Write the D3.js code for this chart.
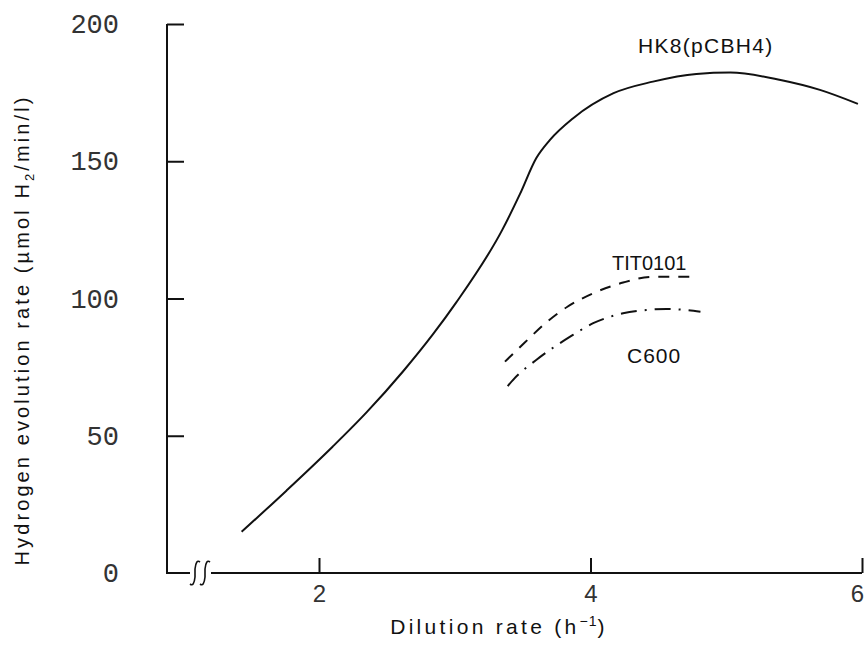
<!DOCTYPE html>
<html>
<head>
<meta charset="utf-8">
<script src="https://cdn.jsdelivr.net/npm/d3@7"></script>
<style>
	body { margin: 0; background: #fff; }
	svg { display: block; }
	.lbl { font-family: "Liberation Sans", Arial, sans-serif; fill: #111; }
	.ytick text { font-family: "Liberation Mono", monospace; font-size: 27px; fill: #333; }
	.xtick text { font-family: "Liberation Sans", Arial, sans-serif; font-size: 24px; fill: #333; }
</style>
</head>
<body>
<div id="container"></div>
<script>
(function () {
	// data
	var hk8X = [1.43, 1.76, 2.10, 2.35, 2.62, 2.84, 3.01, 3.35, 3.48, 3.60, 3.70, 3.87, 4.17, 4.46, 4.78, 5.03, 5.40, 5.69, 5.97];
	var hk8Y = [15.0, 30.0, 46.0, 58.5, 73.5, 87.0, 98.5, 125.0, 138.0, 151.1, 157.7, 165.6, 174.8, 179.0, 181.8, 182.3, 179.6, 176.0, 170.9];

	var titX = [3.37, 3.51, 3.68, 3.83, 4.02, 4.24, 4.46, 4.73];
	var titY = [77.0, 83.7, 91.5, 97.0, 101.9, 105.8, 107.9, 107.9];

	var c600X = [3.39, 3.44, 3.60, 3.85, 4.02, 4.24, 4.41, 4.56, 4.81];
	var c600Y = [68.1, 70.9, 77.6, 86.1, 91.0, 94.6, 95.8, 96.2, 95.2];

	var yTicks = [0, 50, 100, 150, 200];
	var xTicks = [2, 4, 6];

	var width = 867, height = 648;

	// scales
	var xScale = d3.scaleLinear().domain([2, 6]).range([319, 862]);
	var yScale = d3.scaleLinear().domain([0, 200]).range([573, 24]);
	var axisX0 = 167;	// y axis position / left end of x axis

	var svg = d3.select("#container")
		.append("svg")
			.attr("width", width)
			.attr("height", height);

	// y axis line
	svg.append("line")
		.attr("x1", axisX0).attr("x2", axisX0)
		.attr("y1", yScale(200)).attr("y2", yScale(0))
		.attr("stroke", "#111").attr("stroke-width", 2);

	// y tick marks (inward)
	svg.append("g")
		.attr("transform", "translate(" + axisX0 + ",0)")
		.call(d3.axisRight(yScale).tickValues(yTicks.filter(function (d) { return d > 0; })).tickSize(17).tickFormat(""))
		.call(function (g) { g.select(".domain").remove(); })
		.selectAll("line").attr("stroke", "#111").attr("stroke-width", 2);

	// y tick labels
	svg.append("g")
		.attr("class", "ytick")
		.attr("transform", "translate(" + axisX0 + ",0)")
		.call(d3.axisLeft(yScale).tickValues(yTicks).tickSize(0).tickPadding(48))
		.call(function (g) { g.select(".domain").remove(); })
		.selectAll("text").attr("font-size", null).attr("font-family", null).attr("fill", null);

	// x axis line with break
	var brk = 190;
	svg.append("line")
		.attr("x1", axisX0 - 1).attr("x2", brk)
		.attr("y1", yScale(0)).attr("y2", yScale(0))
		.attr("stroke", "#111").attr("stroke-width", 2);
	svg.append("line")
		.attr("x1", brk + 21).attr("x2", xScale(6))
		.attr("y1", yScale(0)).attr("y2", yScale(0))
		.attr("stroke", "#111").attr("stroke-width", 2);

	// break marks, two integral-like squiggles
	[brk + 5, brk + 15].forEach(function (bx) {
		var by = yScale(0);
		svg.append("path")
			.attr("d", "M" + (bx - 5) + "," + (by + 11) +
				" Q" + (bx - 1) + "," + (by + 14) + " " + bx + "," + (by + 4) +
				" L" + bx + "," + (by - 4) +
				" Q" + (bx + 1) + "," + (by - 14) + " " + (bx + 5) + "," + (by - 11))
			.attr("fill", "none").attr("stroke", "#111").attr("stroke-width", 1.6);
	});

	// x tick marks (upward)
	svg.append("g")
		.attr("transform", "translate(0," + yScale(0) + ")")
		.call(d3.axisTop(xScale).tickValues(xTicks).tickSize(15).tickFormat(""))
		.call(function (g) { g.select(".domain").remove(); })
		.selectAll("line").attr("stroke", "#111").attr("stroke-width", 2);

	// x tick labels
	svg.append("g")
		.attr("class", "xtick")
		.attr("transform", "translate(0," + yScale(0) + ")")
		.call(d3.axisBottom(xScale).tickValues(xTicks).tickSize(0).tickPadding(12).tickFormat(d3.format("d")))
		.call(function (g) { g.select(".domain").remove(); })
		.selectAll("text").attr("font-size", null).attr("font-family", null).attr("fill", null)
		.attr("dx", function (d) { return d === 6 ? -5 : 0; });

	// curves
	var line = d3.line()
		.x(function (d) { return xScale(d[0]); })
		.y(function (d) { return yScale(d[1]); })
		.curve(d3.curveMonotoneX);

	function pts(xs, ys) { return xs.map(function (x, i) { return [x, ys[i]]; }); }

	svg.append("path")
		.datum(pts(hk8X, hk8Y))
		.attr("d", line)
		.attr("fill", "none").attr("stroke", "#111").attr("stroke-width", 2);

	svg.append("path")
		.datum(pts(titX, titY))
		.attr("d", line)
		.attr("fill", "none").attr("stroke", "#111").attr("stroke-width", 2)
		.attr("stroke-dasharray", "11,9");

	svg.append("path")
		.datum(pts(c600X, c600Y))
		.attr("d", line)
		.attr("fill", "none").attr("stroke", "#111").attr("stroke-width", 2)
		.attr("stroke-dasharray", "16,8,2,8");

	// curve labels
	svg.append("text").attr("class", "lbl")
		.attr("x", 638).attr("y", 53)
		.style("font-size", "21px").style("letter-spacing", "1.3px")
		.text("HK8(pCBH4)");
	svg.append("text").attr("class", "lbl")
		.attr("x", 612).attr("y", 270)
		.style("font-size", "20px")
		.text("TIT0101");
	svg.append("text").attr("class", "lbl")
		.attr("x", 627).attr("y", 363)
		.style("font-size", "21px").style("letter-spacing", "1px")
		.text("C600");

	// axis titles
	var xt = svg.append("text").attr("class", "lbl")
		.attr("x", 499).attr("y", 634)
		.attr("text-anchor", "middle")
		.style("font-size", "21px").style("letter-spacing", "3.3px");
	xt.append("tspan").text("Dilution rate (h");
	xt.append("tspan").attr("dy", -8).style("font-size", "14px").style("letter-spacing", "1px").text("\u22121");
	xt.append("tspan").attr("dy", 8).text(")");

	var yt = svg.append("text").attr("class", "lbl")
		.attr("transform", "translate(29,330) rotate(-90)")
		.attr("text-anchor", "middle")
		.style("font-size", "20px").style("letter-spacing", "3.1px");
	yt.append("tspan").text("Hydrogen evolution rate (\u00b5mol H");
	yt.append("tspan").attr("dy", 5).style("font-size", "13px").text("2");
	yt.append("tspan").attr("dy", -5).text("/min/l)");
})();
</script>
</body>
</html>
